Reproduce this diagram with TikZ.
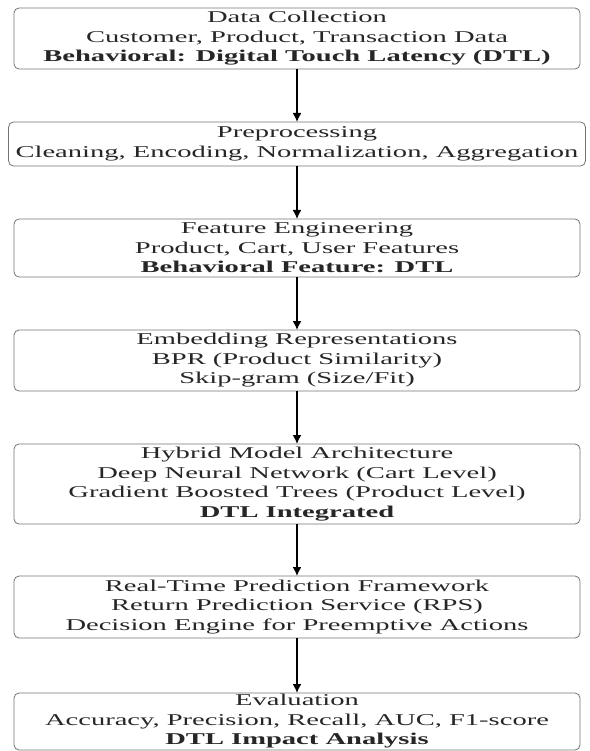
\documentclass[tikz,border=0pt]{standalone}
\usepackage{fontspec}
\setmainfont[FakeStretch=1.73]{Liberation Serif}
\usetikzlibrary{arrows.meta,positioning}

\begin{document}
\begin{tikzpicture}[x=1pt, y=1pt, node distance=53pt,
    >={Latex[length=9pt,width=9pt]},
    block/.style={rectangle, draw=black!55, line width=0.8pt, rounded corners=5pt, align=center, minimum width=566pt, inner xsep=7pt, inner ysep=0.5pt, outer sep=0pt, font=\fontsize{16.5}{19.5}\selectfont, text=black!85},
    line/.style={draw, ->, line width=1.6pt}]

    \useasboundingbox (0,0) rectangle (589,-751);

    % Data
    \node [block, anchor=north, minimum height=61pt] (collect) at (297,-8) {Data Collection \\ Customer, Product, Transaction Data \\ \textbf{Behavioral: Digital Touch Latency (DTL)}};

    % Preparation
    \node [block, below=of collect, minimum height=44pt] (prep) {Preprocessing \\ Cleaning, Encoding, Normalization, Aggregation};
    \node [block, below=of prep, minimum height=58pt] (feat) {Feature Engineering \\ Product, Cart, User Features \\ \textbf{Behavioral Feature: DTL}};
    \node [block, below=of feat, minimum height=61pt] (embed) {Embedding Representations \\ BPR (Product Similarity) \\ Skip-gram (Size/Fit)};

    % Model
    \node [block, below=of embed, minimum height=80pt] (hybrid) {Hybrid Model Architecture \\ Deep Neural Network (Cart Level) \\ Gradient Boosted Trees (Product Level) \\ \textbf{DTL Integrated}};

    % Deployment
    \node [block, below=52pt of hybrid, minimum height=62pt] (rps) {Real-Time Prediction Framework \\ Return Prediction Service (RPS) \\ Decision Engine for Preemptive Actions};

    % Output
    \node [block, below=55pt of rps, minimum height=57pt] (eval) {Evaluation \\ Accuracy, Precision, Recall, AUC, F1-score \\ \textbf{DTL Impact Analysis}};

    % Paths
    \path [line] (collect) -- (prep);
    \path [line] (prep) -- (feat);
    \path [line] (feat) -- (embed);
    \path [line] (embed) -- (hybrid);
    \path [line] (hybrid) -- (rps);
    \path [line] (rps) -- (eval);

\end{tikzpicture}
\end{document}
